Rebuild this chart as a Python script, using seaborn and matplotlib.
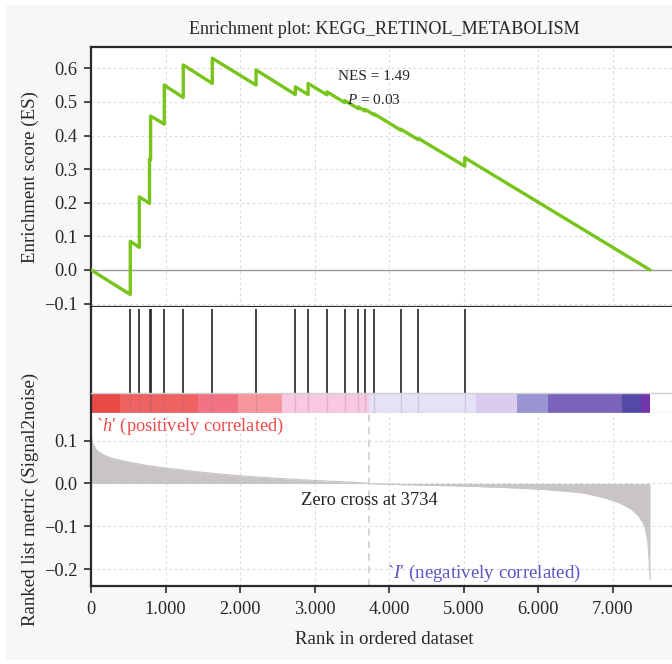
import matplotlib
matplotlib.use("Agg")
import numpy as np
import pandas as pd
import seaborn as sns
import matplotlib.pyplot as plt
from matplotlib.patches import Rectangle
from matplotlib.ticker import FuncFormatter

# ---------------- data ----------------
title = "Enrichment plot: KEGG_RETINOL_METABOLISM"
n_genes = 7500
zero_cross = 3734
nes_text = "NES = 1.49"
p_text = r"$P$ = 0.03"

# running enrichment score vertices (rank, ES)
es_rank = [0, 527, 527, 648, 648, 785, 785, 800, 800, 983, 983, 1238, 1238,
           1627, 1627, 2214, 2214, 2741, 2741, 2912, 2912, 3166, 3166, 3404, 3404,
           3586, 3586, 3676, 3676, 3801, 3801, 4155, 4155, 4387, 4387, 5014, 5014, 7500]
es_score = [0.0, -0.073, 0.0855, 0.067, 0.2175, 0.198, 0.33, 0.328, 0.458, 0.434, 0.55,
            0.513, 0.61, 0.555, 0.63, 0.55, 0.595, 0.522, 0.545, 0.522, 0.555,
            0.521, 0.530, 0.498, 0.504, 0.480, 0.485, 0.473, 0.478, 0.461, 0.464,
            0.416, 0.419, 0.388, 0.392, 0.309, 0.334, 0.0]

# gene-set hit positions
hits = [527, 648, 785, 800, 983, 1238, 1627, 2214, 2741, 2912, 3166, 3404,
        3586, 3676, 3801, 4155, 4387, 5014]

# ranked list metric (Signal2noise)
metric_rank = [0, 20, 60, 100, 200, 300, 500, 750, 1000, 1500, 2000, 2500, 3000,
               3500, 3734, 4000, 4500, 5000, 5500, 6000, 6300, 6600, 6900, 7100,
               7250, 7350, 7430, 7470, 7490, 7500]
metric_val = [0.115, 0.095, 0.082, 0.074, 0.064, 0.058, 0.050, 0.042, 0.036, 0.026,
              0.018, 0.012, 0.007, 0.003, 0.0, -0.002, -0.004, -0.006, -0.009,
              -0.013, -0.017, -0.022, -0.034, -0.046, -0.060, -0.076, -0.100,
              -0.135, -0.190, -0.225]

# colour bar segments (start rank, end rank, colour)
bar_start = [0, 390, 1440, 1968, 2558, 3734, 5161, 5720, 6136, 7125, 7380]
bar_end = [390, 1440, 1968, 2558, 3734, 5161, 5720, 6136, 7125, 7380, 7500]
bar_color = ["#e8403c", "#ef5959", "#f36b80", "#f79198", "#f8c6df", "#e4e0f6",
             "#d8caee", "#948ed1", "#735cb8", "#4a40a0", "#6a2aa8"]

x_ticks = [0, 1000, 2000, 3000, 4000, 5000, 6000, 7000]
es_ticks = [-0.1, 0.0, 0.1, 0.2, 0.3, 0.4, 0.5, 0.6]
metric_ticks = [-0.2, -0.1, 0.0, 0.1]

# ---------------- style ----------------
sns.set_theme(style="white")
plt.rcParams["font.family"] = ["Liberation Serif", "DejaVu Serif"]
plt.rcParams["mathtext.fontset"] = "custom"
plt.rcParams["mathtext.rm"] = "Liberation Serif"
plt.rcParams["mathtext.it"] = "Liberation Serif:italic"
plt.rcParams["axes.unicode_minus"] = True

W, H = 672, 664
fig = plt.figure(figsize=(W / 100, H / 100), dpi=100, facecolor="white")
fig.patches.append(Rectangle((6 / W, 4 / H), 1, (H - 9) / H, transform=fig.transFigure,
                             facecolor="#f7f7f7", edgecolor="none", zorder=-10))

L = 91 / W
Wd = 587 / W


def box(top, bottom):
    return [L, (H - bottom) / H, Wd, (bottom - top) / H]


ax1 = fig.add_axes(box(47, 307))
ax2 = fig.add_axes(box(307, 392.7))
ax3 = fig.add_axes(box(392.7, 413.3))
ax4 = fig.add_axes(box(413.3, 586))

XMAX = n_genes * 1.05
grid_kw = dict(color="#dcdcdc", lw=0.8, ls=(0, (2.5, 2.5)))
spine_c = "#2a2a2a"
TICK = 13.2
LAB = 13.6
minus_fmt = FuncFormatter(lambda v, _: f"{v:.1f}".replace("-", "\u2212") if abs(v) > 1e-9 else "0.0")

# ---- top: running ES ----
es_df = pd.DataFrame({"rank": es_rank, "es": es_score})
ax1.set_facecolor("white")
ax1.axhline(0, color="#9c9c9c", lw=1.0, zorder=1)
sns.lineplot(data=es_df, x="rank", y="es", ax=ax1, color="#77c41b", lw=2.4,
             sort=False, estimator=None, zorder=3)
ax1.set_xlim(0, XMAX)
ax1.set_ylim(-0.1102, 0.6634)
ax1.set_xticks(x_ticks)
ax1.set_yticks(es_ticks)
ax1.yaxis.set_major_formatter(minus_fmt)
ax1.grid(True, **grid_kw)
ax1.tick_params(axis="x", bottom=False, labelbottom=False)
ax1.tick_params(axis="y", left=True, length=5, width=1.2, color=spine_c, labelsize=TICK, pad=5)
for s in ax1.spines.values():
    s.set_color(spine_c)
    s.set_linewidth(1.6)
ax1.set_xlabel("")
ax1.set_ylabel("Enrichment score (ES)", fontsize=LAB)
ax1.yaxis.set_label_coords(-0.088, 0.5)
ax1.set_title(title, fontsize=13.1, pad=9)
ax1.text(3800, 0.575, nes_text, ha="center", va="center", fontsize=11)
ax1.text(3800, 0.505, p_text, ha="center", va="center", fontsize=11)

# ---- hits ----
ax2.set_facecolor("white")
ax2.vlines(hits, 0, 0.973, color="#222222", lw=1.2)
ax2.set_xlim(0, XMAX)
ax2.set_ylim(0, 1)
ax2.set_xticks([])
ax2.set_yticks([])
for k, s in ax2.spines.items():
    s.set_visible(k == "left")
ax2.spines["left"].set_color(spine_c)
ax2.spines["left"].set_linewidth(1.6)

# ---- colour bar ----
ax3.set_facecolor("white")
for a, b, c in zip(bar_start, bar_end, bar_color):
    ax3.axvspan(a, b, color=c, lw=0, alpha=0.95)
ax3.vlines(hits, 0, 1, color="#7a6a80", lw=1.0, alpha=0.22)
ax3.set_xlim(0, XMAX)
ax3.set_ylim(0, 1)
ax3.set_xticks([])
ax3.set_yticks([])
ax3.spines["right"].set_visible(False)
for k in ("top", "bottom"):
    ax3.spines[k].set_color("#cfcfcf")
    ax3.spines[k].set_linewidth(1.0)
ax3.spines["left"].set_color(spine_c)
ax3.spines["left"].set_linewidth(1.6)

# ---- ranked metric ----
m_df = pd.DataFrame({"rank": metric_rank, "metric": metric_val})
ax4.set_facecolor("white")
ax4.fill_between(m_df["rank"], m_df["metric"], 0, color="#c9c5c5", lw=0, zorder=2)
sns.lineplot(data=m_df, x="rank", y="metric", ax=ax4, color="#c9c5c5", lw=0.8,
             estimator=None, zorder=2)
ax4.axvline(zero_cross, color="#d2d2d2", lw=1.3, ls=(0, (4, 3)), zorder=1)
ax4.set_xlim(0, XMAX)
ax4.set_ylim(-0.2395, 0.164)
ax4.set_xticks(x_ticks)
ax4.set_yticks(metric_ticks)
ax4.xaxis.set_major_formatter(FuncFormatter(lambda v, _: f"{int(v):,}".replace(",", ".")))
ax4.yaxis.set_major_formatter(minus_fmt)
ax4.grid(True, **grid_kw)
ax4.tick_params(axis="both", length=5, width=1.2, color=spine_c, labelsize=TICK)
ax4.tick_params(axis="x", bottom=True, pad=6)
ax4.tick_params(axis="y", left=True, pad=5)
for k, s in ax4.spines.items():
    s.set_visible(k in ("left", "bottom"))
    s.set_color(spine_c)
    s.set_linewidth(1.6)
ax4.set_xlabel("Rank in ordered dataset", fontsize=LAB, labelpad=9)
ax4.set_ylabel("Ranked list metric (Signal2noise)", fontsize=LAB)
ax4.yaxis.set_label_coords(-0.088, 0.5)
ax4.text(67, 0.134, "`$h$\u2032 (positively correlated)", color="#ef4b4b",
         fontsize=13.2, ha="left", va="center")
ax4.text(6575, -0.209, "`$I$\u2032 (negatively correlated)", color="#5a54c4",
         fontsize=13.6, ha="right", va="center")
ax4.text(zero_cross, -0.039, f"Zero cross at {zero_cross}", color="#222222",
         fontsize=13.2, ha="center", va="center")

fig.savefig("out.png", dpi=100, facecolor=fig.get_facecolor())
